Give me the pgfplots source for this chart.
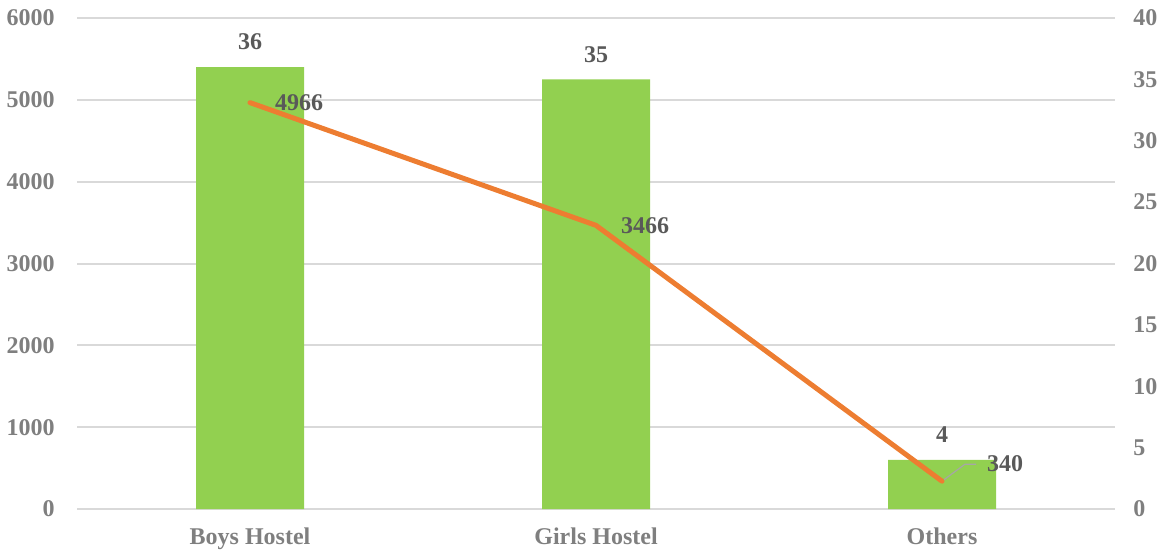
\documentclass[border=0pt]{standalone}
\usepackage{pgfplots}
\pgfplotsset{compat=1.18}
\usepackage{fontspec}
\setmainfont{Liberation Serif}

\definecolor{barg}{HTML}{92D050}
\definecolor{lineo}{HTML}{ED7D31}
\definecolor{gridc}{HTML}{D9D9D9}
\definecolor{tickc}{HTML}{7F7F7F}
\definecolor{labc}{HTML}{595959}
\definecolor{leadc}{HTML}{A6A6A6}

% bars: number of hostels (right axis), line: residents (left axis)
\pgfplotstableread{
x n
0 36
1 35
2 4
}\bars
\pgfplotstableread{
x v dx dy
0 4966 8 0
1 3466 8 0
2 340 18 9
}\residents

\pgfplotsset{
  common/.style={
    scale only axis, width=519pt, height=245.5pt,
    xmin=-0.5, xmax=2.5,
    axis line style={draw=none}, tick style={draw=none},
    ticklabel style={font=\fontsize{12}{14}\selectfont\bfseries, text=tickc},
    /pgf/number format/assume math mode=true,
    /pgf/number format/1000 sep={},
  },
}

\begin{document}
\begin{tikzpicture}
\useasboundingbox (-38.5pt,-21.5pt) rectangle (549.5pt,254.5pt);

% left scale, grid and category names
\begin{axis}[common,
    ymin=0, ymax=6000, ytick={0,1000,...,6000},
    ymajorgrids, grid style={gridc, line width=1pt},
    yticklabel style={xshift=-7.7pt},
    xtick={0,1,2}, xticklabels={Boys Hostel, Girls Hostel, Others},
    xticklabel style={yshift=-6pt},
]
\end{axis}

% bars on the right scale
\begin{axis}[common,
    axis y line*=right, axis x line=none,
    ymin=0, ymax=40, ytick={0,5,...,40},
    yticklabel style={xshift=5.7pt},
    xtick=\empty,
]
\addplot[ybar, bar width=54pt, fill=barg, draw=none,
    nodes near coords,
    every node near coord/.append style={font=\fontsize{12}{14}\selectfont\bfseries, text=labc, yshift=5pt}]
    table[x=x, y=n] {\bars};
\end{axis}

% line on the left scale
\begin{axis}[common,
    hide axis,
    ymin=0, ymax=6000,
]
\draw[leadc, line width=0.6pt] (axis cs:2,340) -- ++(11.5pt,8.5pt) -- ++(5.5pt,0pt);
\addplot[lineo, line width=2.5pt, line cap=round, line join=round, mark=none,
    nodes near coords,
    visualization depends on={\thisrow{dx} \as \dx},
    visualization depends on={\thisrow{dy} \as \dy},
    every node near coord/.append style={font=\fontsize{12}{14}\selectfont\bfseries, text=labc,
      anchor=west, xshift=\dx pt, yshift=\dy pt}]
    table[x=x, y=v] {\residents};
\end{axis}
\end{tikzpicture}
\end{document}
